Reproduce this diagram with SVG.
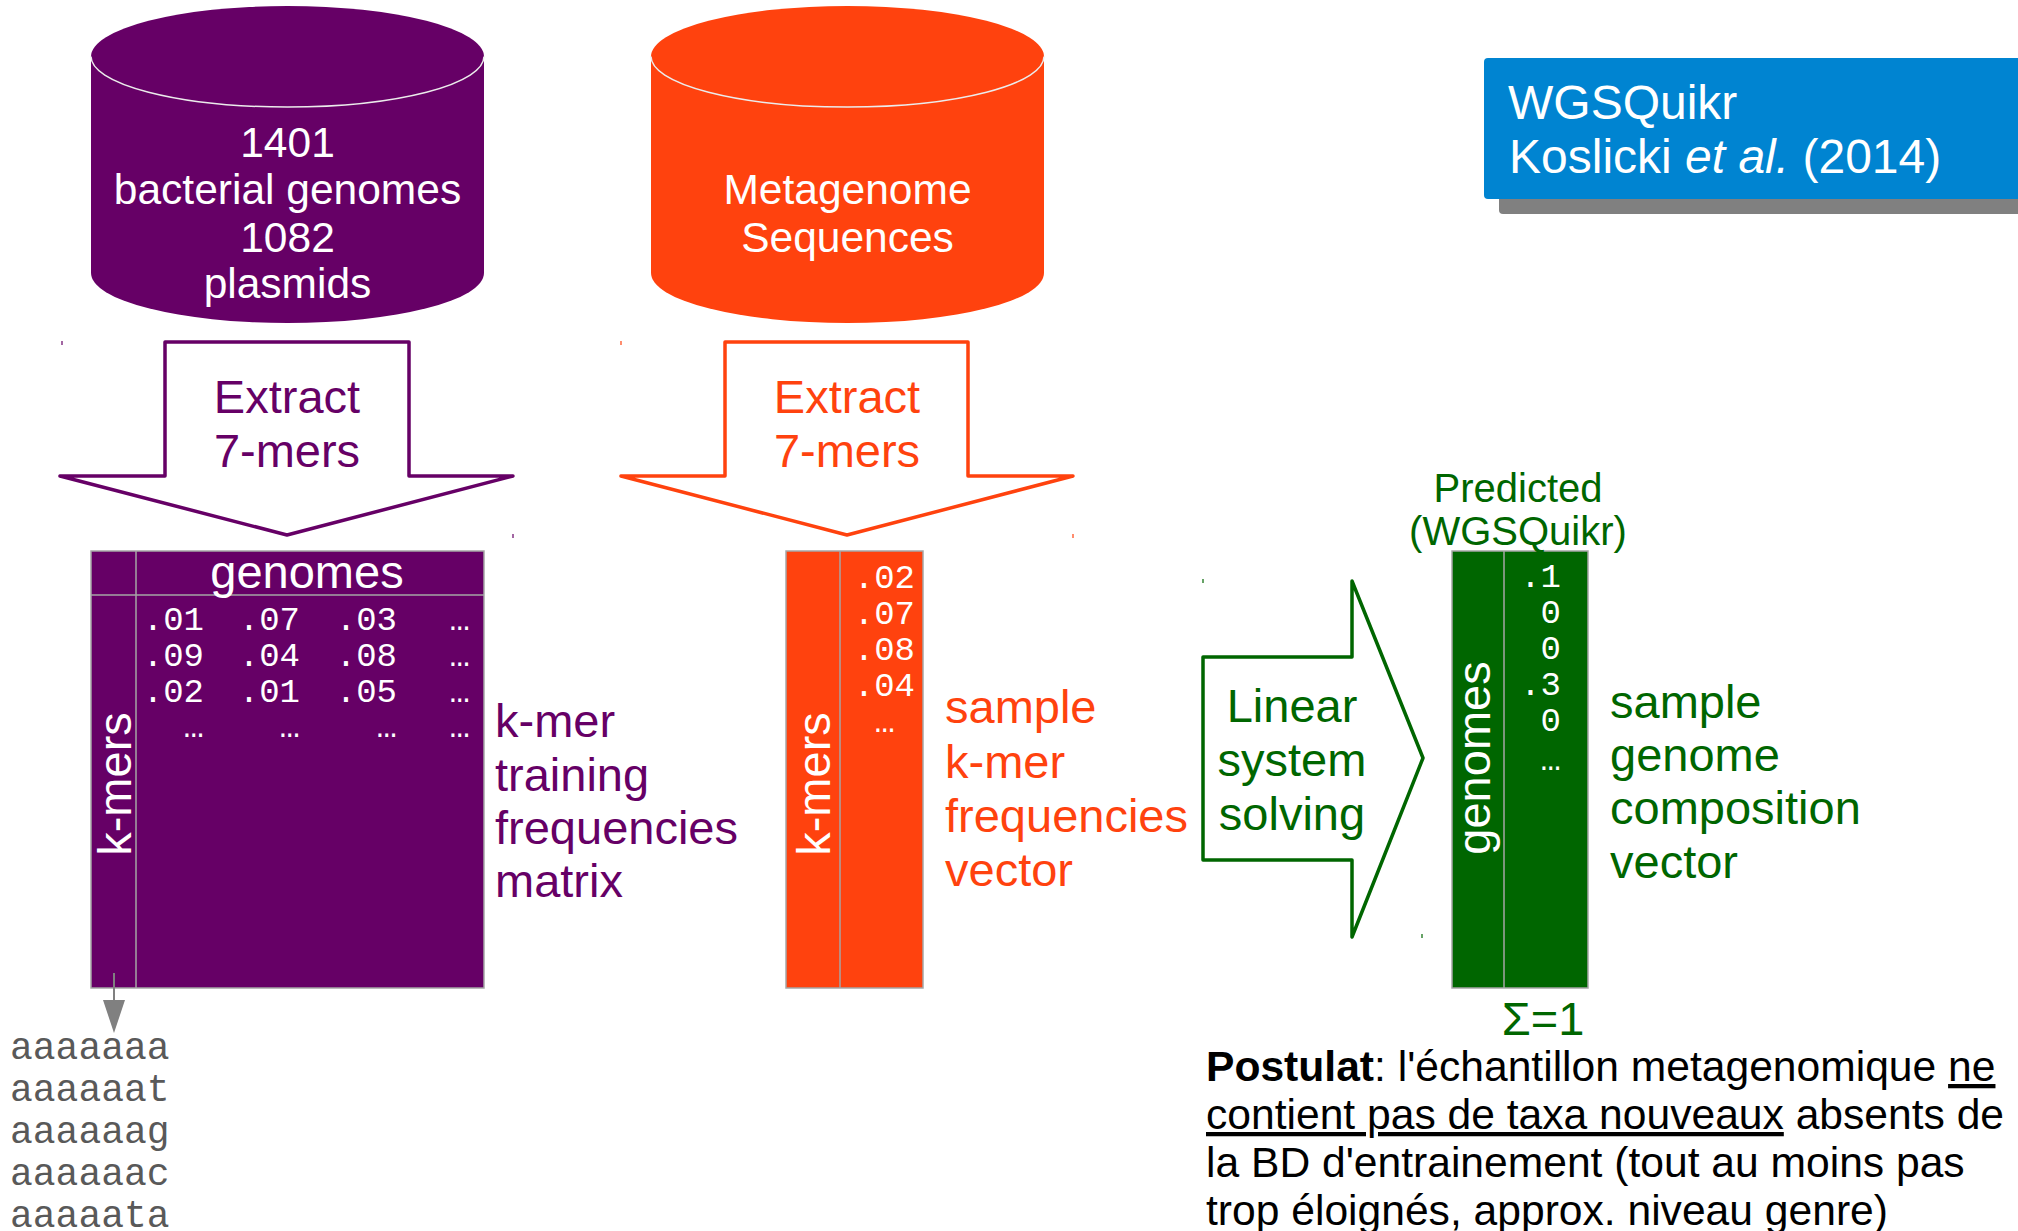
<svg xmlns="http://www.w3.org/2000/svg" width="2018" height="1231" viewBox="0 0 2018 1231">
  <style>
    .sans { font-family: "Liberation Sans", Arial, sans-serif; }
    .mono { font-family: "Liberation Mono", "Courier New", monospace; }
    .cyl-text { font-family: "Liberation Sans", Arial, sans-serif; font-size: 42.5px; fill: #ffffff; text-anchor: middle; }
    .rim { fill: none; stroke: #ececec; stroke-width: 1.5; }
    .grid { fill: none; stroke: #a6a6a6; stroke-width: 1.5; }
    .num { font-family: "Liberation Mono", "Courier New", monospace; font-size: 34px; fill: #ffffff; text-anchor: end; }
    .lbl { font-family: "Liberation Sans", Arial, sans-serif; font-size: 47px; }
    .head { font-family: "Liberation Sans", Arial, sans-serif; font-size: 47px; fill: #ffffff; text-anchor: middle; }
    .blk { fill: #ffffff; stroke-width: 3.5; stroke-linejoin: round; }
    .arrow-text { font-family: "Liberation Sans", Arial, sans-serif; font-size: 47px; text-anchor: middle; }
    .tick { stroke-width: 1.2; }
    .purple { fill: #660066; }
    .orange { fill: #ff420e; }
    .green { fill: #006600; }
  </style>

  <rect x="0" y="0" width="2018" height="1231" fill="#ffffff"/>

  <!-- Training database cylinder -->
  <g id="db-genomes">
    <path class="purple" d="M91,56.5 L91,273 A196.5,50 0 0 0 484,273 L484,56.5 A196.5,50.5 0 0 0 91,56.5 Z"/>
    <path class="rim" d="M91,56.5 A196.5,50.5 0 0 0 484,56.5"/>
    <text class="cyl-text" x="287.5" y="157">1401</text>
    <text class="cyl-text" x="287.5" y="204">bacterial genomes</text>
    <text class="cyl-text" x="287.5" y="252">1082</text>
    <text class="cyl-text" x="287.5" y="298">plasmids</text>
  </g>

  <!-- Metagenome cylinder -->
  <g id="db-metagenome">
    <path class="orange" d="M651,56.5 L651,273 A196.5,50 0 0 0 1044,273 L1044,56.5 A196.5,50.5 0 0 0 651,56.5 Z"/>
    <path class="rim" d="M651,56.5 A196.5,50.5 0 0 0 1044,56.5"/>
    <text class="cyl-text" x="847.5" y="204">Metagenome</text>
    <text class="cyl-text" x="847.5" y="252">Sequences</text>
  </g>

  <!-- Title box -->
  <g id="title">
    <rect x="1499" y="73" width="600" height="141" rx="4" fill="#808080"/>
    <rect x="1484" y="58" width="600" height="141" rx="4" fill="#0084d1"/>
    <text class="sans" x="1508" y="119" font-size="48" fill="#ffffff">WGSQuikr</text>
    <text class="sans" x="1509" y="173" font-size="48" fill="#ffffff">Koslicki <tspan font-style="italic">et al.</tspan> (2014)</text>
  </g>

  <!-- Extract arrows -->
  <g id="extract-training">
    <polygon class="blk" stroke="#660066" points="165,342 409,342 409,476 513,476 287,535 60,476 165,476"/>
    <text class="arrow-text purple" x="287" y="413">Extract</text>
    <text class="arrow-text purple" x="287" y="467">7-mers</text>
    <line class="tick" stroke="#660066" x1="62" y1="341" x2="62" y2="345"/>
    <line class="tick" stroke="#660066" x1="513" y1="534" x2="513" y2="538"/>
  </g>

  <g id="extract-sample">
    <polygon class="blk" stroke="#ff420e" points="725,342 968,342 968,476 1073,476 847,535 621,476 725,476"/>
    <text class="arrow-text orange" x="847" y="413">Extract</text>
    <text class="arrow-text orange" x="847" y="467">7-mers</text>
    <line class="tick" stroke="#ff420e" x1="621" y1="341" x2="621" y2="345"/>
    <line class="tick" stroke="#ff420e" x1="1073" y1="534" x2="1073" y2="538"/>
  </g>

  <!-- Training frequencies matrix -->
  <g id="matrix-training">
    <rect class="purple" x="91" y="551" width="393" height="437"/>
    <rect class="grid" x="91" y="551" width="393" height="437"/>
    <line class="grid" x1="136" y1="551" x2="136" y2="988"/>
    <line class="grid" x1="91" y1="595" x2="484" y2="595"/>
    <text class="head" x="307" y="588">genomes</text>
    <text class="head" transform="translate(131,784) rotate(-90)">k-mers</text>
    <text class="num" x="204" y="630">.01</text><text class="num" x="300" y="630">.07</text><text class="num" x="397" y="630">.03</text><text class="num" x="470" y="630">…</text>
    <text class="num" x="204" y="666">.09</text><text class="num" x="300" y="666">.04</text><text class="num" x="397" y="666">.08</text><text class="num" x="470" y="666">…</text>
    <text class="num" x="204" y="702">.02</text><text class="num" x="300" y="702">.01</text><text class="num" x="397" y="702">.05</text><text class="num" x="470" y="702">…</text>
    <text class="num" x="204" y="737">…</text><text class="num" x="300" y="737">…</text><text class="num" x="397" y="737">…</text><text class="num" x="470" y="737">…</text>
    <text class="lbl purple" x="495" y="737">k-mer</text>
    <text class="lbl purple" x="495" y="791">training</text>
    <text class="lbl purple" x="495" y="844">frequencies</text>
    <text class="lbl purple" x="495" y="897">matrix</text>
  </g>

  <!-- Sample k-mer frequencies vector -->
  <g id="vector-sample">
    <rect class="orange" x="786" y="551" width="137" height="437"/>
    <rect class="grid" x="786" y="551" width="137" height="437"/>
    <line class="grid" x1="840" y1="551" x2="840" y2="988"/>
    <text class="head" transform="translate(830,784) rotate(-90)">k-mers</text>
    <text class="num" x="915" y="588">.02</text>
    <text class="num" x="915" y="624">.07</text>
    <text class="num" x="915" y="660">.08</text>
    <text class="num" x="915" y="696">.04</text>
    <text class="num" x="895" y="732">…</text>
    <text class="lbl orange" x="945" y="723">sample</text>
    <text class="lbl orange" x="945" y="778">k-mer</text>
    <text class="lbl orange" x="945" y="832">frequencies</text>
    <text class="lbl orange" x="945" y="886">vector</text>
  </g>

  <!-- Linear system solving arrow -->
  <g id="solve">
    <polygon class="blk" stroke="#006600" points="1203,657 1352,657 1352,581 1423,758 1352,937 1352,860 1203,860"/>
    <text class="arrow-text green" x="1292" y="722">Linear</text>
    <text class="arrow-text green" x="1292" y="776">system</text>
    <text class="arrow-text green" x="1292" y="830">solving</text>
    <line class="tick" stroke="#006600" x1="1203" y1="579" x2="1203" y2="583"/>
    <line class="tick" stroke="#006600" x1="1422" y1="934" x2="1422" y2="938"/>
  </g>

  <!-- Predicted genome composition vector -->
  <g id="vector-predicted">
    <text class="sans green" x="1518" y="502" font-size="40" text-anchor="middle">Predicted</text>
    <rect class="green" x="1452" y="551" width="136" height="437"/>
    <rect class="grid" x="1452" y="551" width="136" height="437"/>
    <line class="grid" x1="1504" y1="551" x2="1504" y2="988"/>
    <text class="sans green" x="1518" y="545" font-size="40" text-anchor="middle">(WGSQuikr)</text>
    <text class="head" transform="translate(1490,758) rotate(-90)">genomes</text>
    <text class="num" x="1561" y="587">.1</text>
    <text class="num" x="1561" y="623">0</text>
    <text class="num" x="1561" y="659">0</text>
    <text class="num" x="1561" y="695">.3</text>
    <text class="num" x="1561" y="731">0</text>
    <text class="num" x="1561" y="770">…</text>
    <text class="lbl green" x="1610" y="718">sample</text>
    <text class="lbl green" x="1610" y="771">genome</text>
    <text class="lbl green" x="1610" y="824">composition</text>
    <text class="lbl green" x="1610" y="878">vector</text>
    <text class="sans green" x="1543" y="1035" font-size="47" text-anchor="middle">Σ=1</text>
  </g>

  <!-- k-mer list -->
  <g id="kmer-list" class="mono" font-size="38" fill="#595959">
    <text x="10" y="1059">aaaaaaa</text>
    <text x="10" y="1101">aaaaaat</text>
    <text x="10" y="1143">aaaaaag</text>
    <text x="10" y="1185">aaaaaac</text>
    <text x="10" y="1227">aaaaata</text>
  </g>

  <!-- Assumption note -->
  <g id="postulat" class="sans" font-size="42.6" fill="#000000">
    <text x="1206" y="1081"><tspan font-weight="bold">Postulat</tspan>: l'échantillon metagenomique <tspan text-decoration="underline">ne</tspan></text>
    <text x="1206" y="1129"><tspan text-decoration="underline">contient pas de taxa nouveaux</tspan> absents de</text>
    <text x="1206" y="1177">la BD d'entrainement (tout au moins pas</text>
    <text x="1206" y="1225">trop éloignés, approx. niveau genre)</text>
  </g>

  <!-- Connectors -->
  <g id="connectors">
    <line x1="114" y1="973" x2="114" y2="1001" stroke="#808080" stroke-width="2"/>
    <polygon points="103,1000 125,1000 114,1033" fill="#808080"/>
  </g>
</svg>
